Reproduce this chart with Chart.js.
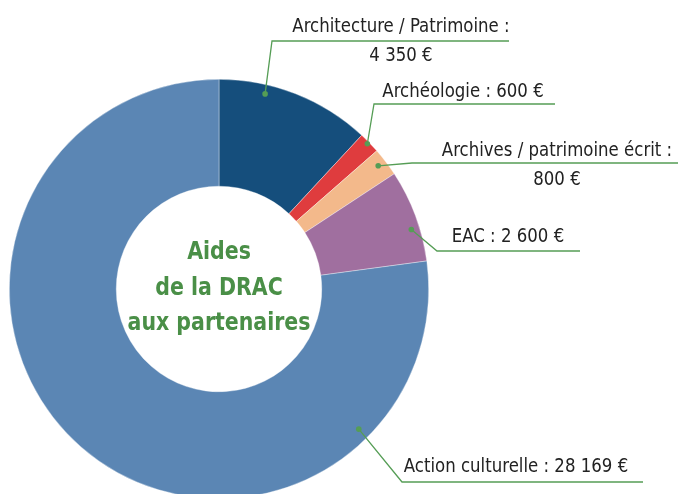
<!DOCTYPE html>
<html lang="fr">
<head>
    <meta charset="UTF-8">
    <title>Aides de la DRAC aux partenaires</title>
    <style>
        body {
            margin: 0;
            background-color: #fff;
            overflow: hidden;
        }

        #chart-box {
            position: relative;
            width: 678px;
            height: 510px;
        }
    </style>
</head>
<body>
    <div id="chart-box">
        <canvas id="donut"></canvas>
    </div>

    <script src="https://cdn.jsdelivr.net/npm/chart.js"></script>

    <script>
        // data
        const categories = ['Architecture / Patrimoine', 'Archéologie', 'Archives / patrimoine écrit', 'EAC', 'Action culturelle'];
        const amounts = [4350, 600, 800, 2600, 28169];
        const sliceColors = ['#154e7c', '#df3c3e', '#f3b98b', '#a06f9f', '#5b86b4'];
        const centerTitle = ['Aides', 'de la DRAC', 'aux partenaires'];

        // label layout: where the leader dot sits in the slice, the elbow, the end of the underline,
        // the text centre and its baselines (two lines when the label is split)
        const labelLayout = [
            { frac: 0.31, rad: 0.956, elbow: [272, 41], endX: 509, textX: 401, baselines: [32, 61], split: true },
            { frac: 0.46, rad: 0.99, elbow: [374, 104], endX: 555, textX: 463, baselines: [97], split: false },
            { frac: 0.44, rad: 0.96, elbow: [412, 163], endX: 680, textX: 557, baselines: [156, 185], split: true },
            { frac: 0.63, rad: 0.96, elbow: [437, 251], endX: 580, textX: 508, baselines: [242], split: false },
            { frac: 0.19, rad: 0.944, elbow: [402, 482], endX: 643, textX: 516, baselines: [472], split: false }
        ];

        function euro(v) {
            return String(v).replace(/\B(?=(\d{3})+(?!\d))/g, ' ') + ' €';
        }

        const FAMILY = '"DejaVu Sans Condensed", "Liberation Sans Narrow", sans-serif';
        const LINE_GREEN = '#559d55';

        // text squeezed a little horizontally to get close to the narrow original typeface
        function narrowText(ctx, text, x, y, sx) {
            ctx.save();
            ctx.translate(x, y);
            ctx.scale(sx, 1);
            ctx.fillText(text, 0, 0);
            ctx.restore();
        }

        const calloutPlugin = {
            id: 'callouts',
            afterDraw(chart) {
                const ctx = chart.ctx;
                const arcs = chart.getDatasetMeta(0).data;
                ctx.save();

                arcs.forEach((arc, i) => {
                    const lay = labelLayout[i];
                    const p = arc.getProps(['x', 'y', 'startAngle', 'endAngle', 'outerRadius'], true);
                    const a = p.startAngle + (p.endAngle - p.startAngle) * lay.frac;
                    const r = p.outerRadius * lay.rad;
                    const dx = p.x + Math.cos(a) * r;
                    const dy = p.y + Math.sin(a) * r;

                    // leader line
                    ctx.strokeStyle = LINE_GREEN;
                    ctx.lineWidth = 1.3;
                    ctx.beginPath();
                    ctx.moveTo(dx, dy);
                    ctx.lineTo(lay.elbow[0], lay.elbow[1]);
                    ctx.lineTo(lay.endX, lay.elbow[1]);
                    ctx.stroke();

                    ctx.fillStyle = LINE_GREEN;
                    ctx.beginPath();
                    ctx.arc(dx, dy, 2.8, 0, Math.PI * 2);
                    ctx.fill();

                    // text
                    const lines = lay.split
                        ? [categories[i] + ' :', euro(amounts[i])]
                        : [categories[i] + ' : ' + euro(amounts[i])];
                    ctx.fillStyle = '#222';
                    ctx.font = '19px ' + FAMILY;
                    ctx.textAlign = 'center';
                    ctx.textBaseline = 'alphabetic';
                    lines.forEach((t, k) => narrowText(ctx, t, lay.textX, lay.baselines[k], 0.97));
                });

                // centre title
                const c = arcs[0];
                ctx.fillStyle = '#4a8f47';
                ctx.font = 'bold 24px ' + FAMILY;
                ctx.textAlign = 'center';
                const baseY = [259, 295, 330];
                centerTitle.forEach((t, k) => narrowText(ctx, t, c.x, baseY[k], 0.95));

                ctx.restore();
            }
        };

        const ctx = document.getElementById('donut').getContext('2d');
        new Chart(ctx, {
            type: 'doughnut',
            data: {
                labels: categories,
                datasets: [{
                    data: amounts,
                    backgroundColor: sliceColors,
                    borderColor: 'rgba(255,255,255,0.6)',
                    borderWidth: 0.6
                }]
            },
            options: {
                responsive: true,
                maintainAspectRatio: false,
                animation: false,
                cutout: '49%',
                layout: {
                    padding: { left: 9, right: 249, top: 79, bottom: 11 }
                },
                plugins: {
                    legend: { display: false },
                    tooltip: { enabled: false }
                }
            },
            plugins: [calloutPlugin]
        });
    </script>
</body>
</html>
